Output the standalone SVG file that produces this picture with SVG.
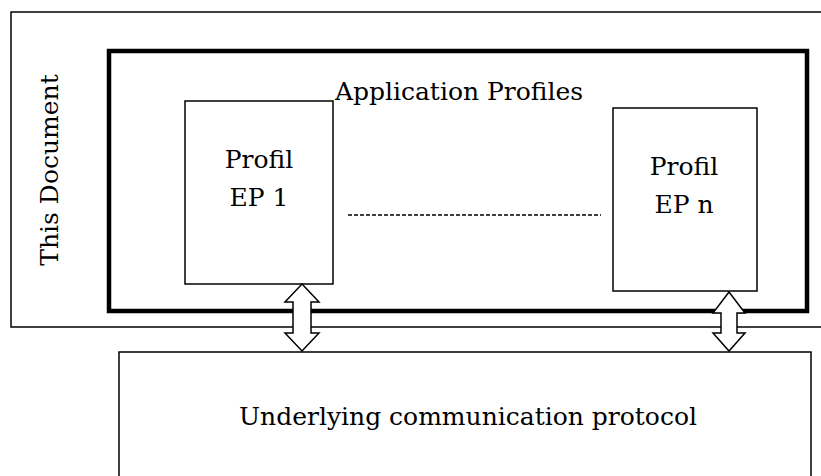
<svg xmlns="http://www.w3.org/2000/svg" width="821" height="476" viewBox="0 0 821 476">
<style>
.t{font-family:"DejaVu Serif","Liberation Serif",serif;font-size:25px;fill:#000}
.box{fill:#fff;stroke:#000;stroke-width:1.5}
.arr{fill:#fff;stroke:#000;stroke-width:1.5;stroke-linejoin:miter}
</style>
<rect width="821" height="476" fill="#fff"/>
<g id="this-document">
<rect x="11" y="12" width="815" height="315" fill="none" stroke="#000" stroke-width="1.5"/>
<text class="t" transform="translate(58,170) rotate(-90)" text-anchor="middle">This Document</text>
</g>
<g id="application-profiles">
<rect x="109" y="51" width="698" height="260" fill="none" stroke="#000" stroke-width="4.5"/>
<text class="t" x="459" y="100" text-anchor="middle">Application Profiles</text>
</g>
<g id="profil-ep1">
<rect class="box" x="185" y="101" width="148" height="183"/>
<text class="t" x="259" y="168" text-anchor="middle">Profil</text>
<text class="t" x="259" y="206" text-anchor="middle">EP 1</text>
</g>
<g id="profil-epn">
<rect class="box" x="613" y="108" width="144" height="183"/>
<text class="t" x="684" y="175" text-anchor="middle">Profil</text>
<text class="t" x="684" y="213" text-anchor="middle">EP n</text>
</g>
<g id="protocol">
<rect class="box" x="119" y="352" width="692" height="130"/>
<text class="t" x="468" y="425" text-anchor="middle">Underlying communication protocol</text>
</g>
<g id="connectors">
<line x1="348" y1="215" x2="601" y2="215" stroke="#000" stroke-width="1.3" stroke-dasharray="4,2"/>
<polygon class="arr" points="302,284 319,302 311,302 311,333 319,333 302,351 285,333 293,333 293,302 285,302"/>
<polygon class="arr" points="729,292 745,313 737,313 737,333 745,333 729,351 713,333 721,333 721,313 713,313"/>
</g>
</svg>
